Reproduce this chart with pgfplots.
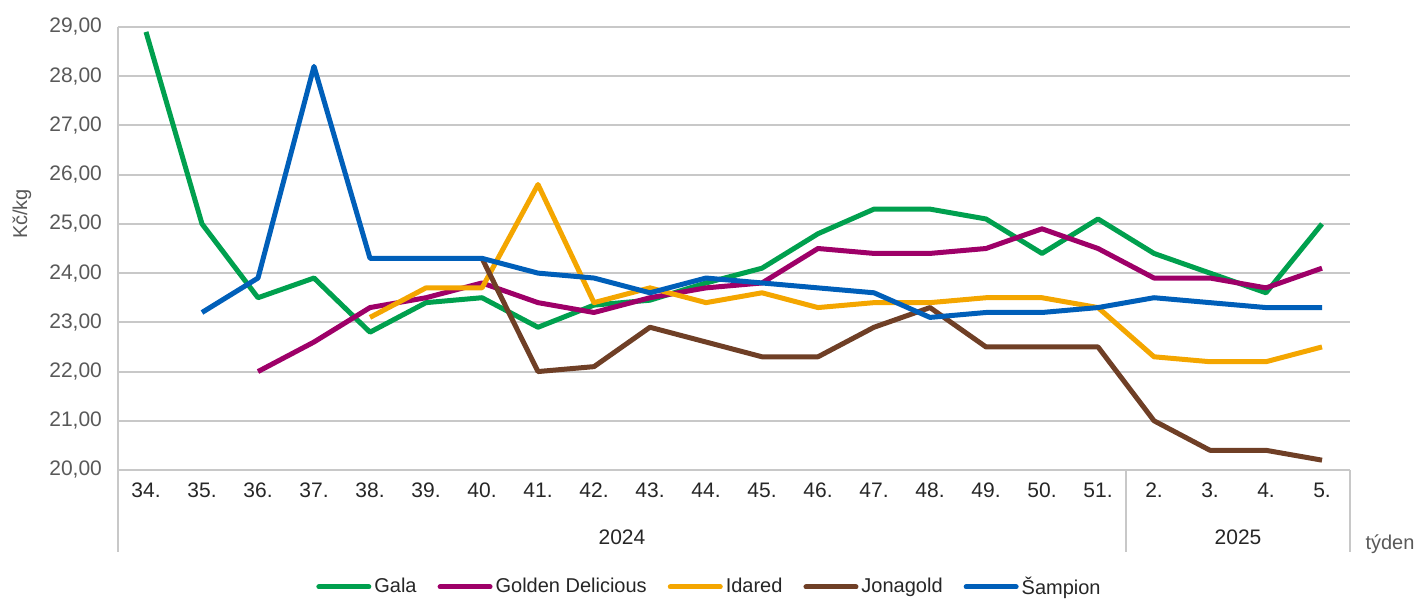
\documentclass[border=0pt]{standalone}
\usepackage{fontspec}
\setmainfont{Liberation Sans}
\usepackage{pgfplots}
\pgfplotsset{compat=1.18}
\definecolor{cGala}{RGB}{0,160,78}
\definecolor{cGolden}{RGB}{158,0,104}
\definecolor{cIdared}{RGB}{244,166,0}
\definecolor{cJona}{RGB}{111,63,38}
\definecolor{cSamp}{RGB}{0,95,185}
\definecolor{cGrid}{RGB}{200,200,200}
\definecolor{cTick}{RGB}{89,89,89}
\definecolor{cText}{RGB}{38,38,38}
\begin{document}
\begin{tikzpicture}
\useasboundingbox (-59pt,-64.5pt) rectangle (649pt,235pt);
\begin{axis}[
  scale only axis,
  width=616pt, height=221.5pt,
  xmin=-0.5, xmax=21.5,
  ymin=20, ymax=29,
  ytick={20,21,...,29},
  xtick={0,...,21},
  xticklabels={34.,35.,36.,37.,38.,39.,40.,41.,42.,43.,44.,45.,46.,47.,48.,49.,50.,51.,2.,3.,4.,5.},
  major tick length=0pt,
  axis x line*=bottom, axis y line*=left,
  axis line style={cGrid, line width=1pt, -},
  ymajorgrids,
  grid style={cGrid, line width=1pt},
  /pgf/number format/.cd, fixed, fixed zerofill, precision=2, use comma, assume math mode=true,
  /pgfplots/.cd,
  yticklabel style={font=\fontsize{10.5}{12}\selectfont, text=cTick, xshift=-4.5pt},
  xticklabel style={font=\fontsize{10.5}{12}\selectfont, text=cText, yshift=-3pt},
  ylabel={Kč/kg},
  ylabel style={font=\fontsize{10}{12}\selectfont, text=cTick, at={(axis description cs:-0.078,0.578)}, anchor=center},
  clip=false,
  legend columns=5,
  legend style={draw=none, fill=none, font=\fontsize{10}{12}\selectfont, text=cText,
    at={(axis description cs:0.4805,-0.264)}, anchor=center,
    nodes={inner xsep=1.5pt},
    /tikz/every even column/.append style={column sep=9pt}},
  legend image code/.code={\draw[#1, line width=2.5pt, line cap=round] (0pt,0pt) -- (25pt,0pt);},
  every axis plot/.append style={line width=2.5pt, line join=round, no markers},
]
\addplot[cGala] coordinates {(0,28.9)(1,25.0)(2,23.5)(3,23.9)(4,22.8)(5,23.4)(6,23.5)(7,22.9)(8,23.35)(9,23.45)(10,23.8)(11,24.1)(12,24.8)(13,25.3)(14,25.3)(15,25.1)(16,24.4)(17,25.1)(18,24.4)(19,24.0)(20,23.6)(21,25.0)};
\addlegendentry{Gala}
\addplot[cGolden] coordinates {(2,22.0)(3,22.6)(4,23.3)(5,23.5)(6,23.8)(7,23.4)(8,23.2)(9,23.5)(10,23.7)(11,23.8)(12,24.5)(13,24.4)(14,24.4)(15,24.5)(16,24.9)(17,24.5)(18,23.9)(19,23.9)(20,23.7)(21,24.1)};
\addlegendentry{Golden Delicious}
\addplot[cIdared] coordinates {(4,23.1)(5,23.7)(6,23.7)(7,25.8)(8,23.4)(9,23.7)(10,23.4)(11,23.6)(12,23.3)(13,23.4)(14,23.4)(15,23.5)(16,23.5)(17,23.3)(18,22.3)(19,22.2)(20,22.2)(21,22.5)};
\addlegendentry{Idared}
\addplot[cJona] coordinates {(6,24.3)(7,22.0)(8,22.1)(9,22.9)(10,22.6)(11,22.3)(12,22.3)(13,22.9)(14,23.3)(15,22.5)(16,22.5)(17,22.5)(18,21.0)(19,20.4)(20,20.4)(21,20.2)};
\addlegendentry{Jonagold}
\addplot[cSamp] coordinates {(1,23.2)(2,23.9)(3,28.2)(4,24.3)(5,24.3)(6,24.3)(7,24.0)(8,23.9)(9,23.6)(10,23.9)(11,23.8)(12,23.7)(13,23.6)(14,23.1)(15,23.2)(16,23.2)(17,23.3)(18,23.5)(19,23.4)(20,23.3)(21,23.3)};
\addlegendentry{Šampion}
\draw[cGrid, line width=1pt] (axis cs:-0.5,20) -- ++(0pt,-41pt);
\draw[cGrid, line width=1pt] (axis cs:17.5,20) -- ++(0pt,-41pt);
\draw[cGrid, line width=1pt] (axis cs:21.5,20) -- ++(0pt,-41pt);
\node[font=\fontsize{10.5}{12}\selectfont, text=cText] at ([yshift=-33.5pt]axis cs:8.5,20) {2024};
\node[font=\fontsize{10.5}{12}\selectfont, text=cText] at ([yshift=-33.5pt]axis cs:19.5,20) {2025};
\node[font=\fontsize{10}{12}\selectfont, text=cTick] at ([xshift=20pt,yshift=-37pt]axis cs:21.5,20) {týden};
\end{axis}
\end{tikzpicture}
\end{document}
